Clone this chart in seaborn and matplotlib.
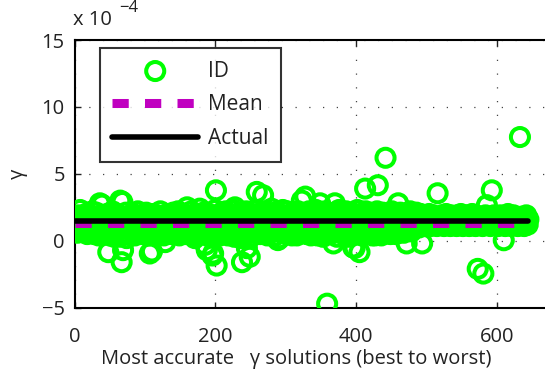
import numpy as np
import pandas as pd
import matplotlib
matplotlib.use("Agg")
import matplotlib.pyplot as plt
import seaborn as sns

# Identified gamma values (units of 1e-4), ordered from best to worst solution
gamma_id = [
    0.8, 1.6, 1.0, 0.6, 1.9, 1.2, 1.7, 2.3, 0.9, 1.5, 0.7, 1.8, 1.1, 1.6, 0.8, 2.0, 1.3, 0.5, 1.7, 1.0,
    1.9, 1.2, 0.6, 1.6, 2.2, 0.9, 1.4, 0.5, 1.8, 1.1, 2.1, 0.8, 1.6, 0.4, 1.3, 2.8, 1.0, 1.9, 2.7, 0.7,
    1.6, 1.1, 0.5, 1.7, 0.9, 2.0, 1.3, -0.85, 1.0, 0.4, 1.8, 0.7, 1.5, 2.2, 1.1, 0.3, 1.7, 0.9, 1.4, 2.0,
    0.8, 1.6, 0.3, 1.8, 3.0, 1.1, -1.6, 2.9, -0.7, 0.6, 1.7, 1.0, 2.1, 0.2, 1.4, 0.5, 1.8, 1.2, 0.8, 1.9,
    1.3, 0.7, 1.7, 2.0, 1.0, 0.4, 1.6, 1.2, 1.0, 2.2, 1.3, 0.8, 1.8, 1.1, 0.5, 1.7, 1.0, 1.9, 0.6, 1.6,
    1.2, 2.1, 0.8, 1.7, 0.4, 1.4, -0.95, 1.0, 1.8, -0.8, 1.1, 2.0, 0.7, 1.6, 1.0, 0.5, 1.9, 1.3, 0.8, 1.7,
    1.1, 2.2, 0.6, 1.6, 1.0, 1.8, 0.4, 1.3, -0.1, 1.7, 0.9, 2.0, 1.2, 0.7, 1.6, 1.9, 1.0, 0.5, 1.4, 2.1,
    0.9, 1.7, 1.1, 0.6, 1.8, 1.3, 2.2, 1.0, 0.4, 1.6, 1.9, 0.7, 1.2, 2.0, 0.9, 1.7, 1.3, 0.5, 1.8, 2.5,
    1.0, 1.6, 0.6, 1.9, 1.2, 2.2, 0.7, 1.7, 0.4, 1.4, 0.2, 1.8, 0.9, 2.0, 1.1, 0.5, 1.6, 2.4, 1.0, 0.6,
    1.7, 1.2, 2.1, 0.5, 1.1, -0.3, 1.8, -0.7, 0.8, 1.6, 2.0, 0.3, 1.0, 1.9, 1.3, -1.1, -0.95, 0.7, 1.7, 2.3,
    3.77, -1.85, 1.1, 0.6, 1.8, 0.9, 0.4, 1.6, 2.1, 1.0, 1.4, 0.5, 1.9, 1.1, 2.2, 0.7, 1.7, 0.4, 1.3, 2.0,
    1.0, 1.8, 0.6, 1.6, 2.3, 0.9, 0.3, 2.5, 1.1, 1.9, 0.5, 1.7, 1.0, 2.1, 1.3, 0.2, 1.8, -1.6, 0.8, 2.0,
    1.6, 0.4, 1.1, 2.2, -0.55, 0.7, 1.7, 1.9, -1.2, 1.0, 0.3, 1.6, 2.0, 1.1, 0.6, 1.8, 2.3, 0.9, 3.65, 1.3,
    1.9, 0.7, 1.6, 0.5, 2.1, 1.1, 1.7, 3.4, 1.0, 2.2, 0.6, 1.8, 1.3, 0.4, 1.6, 2.0, 0.9, 1.9, 1.1, 2.4,
    0.7, 1.7, 1.0, 2.1, 0.4, 1.3, 1.9, 0.8, 0.05, 1.6, 2.0, 0.2, 1.1, 1.8, 0.6, 2.3, 1.3, 1.0, 1.7, 0.5,
    1.6, 2.2, 0.8, 1.8, 1.1, 0.6, 2.0, 1.3, 0.4, 1.7, 1.0, 2.1, 0.7, 1.6, 1.9, 0.4, 1.1, 2.2, 0.8, 1.8,
    1.3, 0.6, 3.0, 1.7, 1.0, 2.0, 0.7, 3.3, 1.6, 0.5, 1.8, 1.1, 2.2, 0.8, 1.7, 0.4, 1.3, 2.0, 1.0, 1.9,
    0.6, 1.6, 2.3, 1.1, 0.4, 1.8, 0.9, 2.1, 2.8, 1.3, 0.7, 1.7, 0.3, 1.9, 1.0, 2.2, 0.6, 1.6, -4.7, 1.1,
    1.8, 0.8, 2.0, 0.5, 1.3, 1.7, 1.0, -0.2, 2.1, 2.8, 0.7, 1.6, 0.3, 1.9, 1.1, 2.3, 0.8, 1.8, 0.6, 1.3,
    2.0, 1.0, 1.7, 0.4, 1.6, 2.2, 0.7, 1.1, 1.9, 0.3, 1.3, 1.8, 0.8, 2.1, 0.6, -0.5, 1.6, -0.55, 1.0, 1.9,
    1.1, 2.3, 0.7, 1.7, -0.85, 1.3, 2.0, 0.4, 0.9, 1.8, 1.6, 0.6, 3.9, 2.2, 1.0, 1.9, 0.5, 1.3, 2.1, 0.8,
    1.7, 1.1, 0.4, 2.0, 1.6, 0.7, 0.4, 1.8, 1.0, 2.2, 4.15, 1.3, 0.6, 1.9, 1.1, 0.4, 1.7, 2.1, 0.9, 1.6,
    1.0, 6.2, 1.8, 0.6, 2.0, 1.3, 0.8, 1.9, 0.5, 1.6, 2.2, 1.1, 0.7, 1.7, 1.0, 2.0, 0.5, 1.3, 1.8, 2.8,
    0.9, 1.6, 2.1, 0.7, 1.1, 1.9, 1.0, 0.6, 1.7, 1.3, 2.0, -0.2, 0.8, 1.8, 1.1, 0.9, 2.2, 1.6, 0.7, 1.3,
    1.8, 1.3, 1.9, 1.1, 1.6, 2.1, 1.4, 1.2, 1.7, 1.0, 1.5, 2.0, 1.3, -0.2, 1.8, 1.4, 1.1, 1.9, 1.6, 1.3,
    1.7, 1.2, 1.5, 2.0, 1.4, 1.1, 1.8, 1.3, 1.6, 1.9, 1.2, 1.5, 1.4, 1.7, 1.1, 3.55, 1.6, 1.3, 1.8, 1.5,
    1.2, 1.9, 1.4, 1.6, 1.1, 1.7, 1.3, 2.0, 1.5, 1.2, 1.8, 1.4, 1.6, 1.1, 1.9, 1.3, 1.7, 1.5, 1.2, 1.8,
    1.4, 1.6, 1.1, 1.9, 1.3, 1.7, 1.5, 1.2, 2.0, 1.4, 1.6, 1.1, 1.8, 1.3, 1.5, 1.9, 1.2, 1.7, 1.4, 1.6,
    1.1, 1.8, 1.3, 1.5, 2.0, 1.2, 1.7, 1.4, 1.6, 1.1, 1.9, 1.3, -2.1, 1.5, 1.8, 1.2, 1.6, 1.4, 1.7, 1.1,
    -2.45, 1.5, 1.3, 1.9, 1.6, 2.66, 1.2, 1.8, 1.4, 1.5, 1.1, 1.7, 3.77, 1.3, 1.6, 1.9, 1.2, 1.5, 1.8, 1.4,
    1.6, 1.1, 1.7, 1.3, 1.9, 1.5, 1.2, 1.8, 1.4, 0.04, 1.6, 1.1, 1.7, 1.3, 1.5, 2.0, 1.2, 1.8, 1.4, 1.6,
    1.1, 1.7, 1.3, 1.9, 1.5, 1.2, 1.8, 1.4, 1.6, 1.1, 1.7, 1.3, 7.75, 1.5, 1.2, 1.8, 1.4, 1.6, 1.1, 1.7,
    1.3, 1.9, 1.5, 1.2, 1.6,
]
gamma_actual = 1.5  # true gamma, units of 1e-4

x_ticks = [0, 200, 400, 600]
y_ticks = [-5, 0, 5, 10, 15]
y_tick_labels = ["\u22125", "0", "5", "10", "15"]

rank = np.arange(1, len(gamma_id) + 1)
df = pd.DataFrame({"rank": rank, "gamma": gamma_id})
df["mean"] = float(np.mean(gamma_id))
df["actual"] = gamma_actual

sns.set_style("white")
plt.rcParams["font.family"] = ["Open Sans", "DejaVu Sans"]
ink = "#222222"

fig = plt.figure(figsize=(5.45, 3.77), dpi=100)
ax = fig.add_axes([74.5 / 545, 69.3 / 377, 700 * 0.7037 / 545, 267.7 / 377])

green = "#00ff00"
sns.scatterplot(data=df, x="rank", y="gamma", ax=ax, marker="o", s=13 ** 2,
                facecolor="none", edgecolor=green, linewidth=2.9, label="ID", zorder=3)
sns.lineplot(data=df, x="rank", y="mean", ax=ax, color="#c000c0", linewidth=6.5,
             label="Mean", zorder=4)
mean_line = ax.lines[-1]
mean_line.set_dashes([1.8, 1.8])
mean_line.set_dash_capstyle("butt")
sns.lineplot(data=df, x="rank", y="actual", ax=ax, color="black", linewidth=4.0,
             label="Actual", zorder=5)

ax.set_xlim(0, 700)
ax.set_ylim(-5, 15)
ax.set_xticks(x_ticks)
ax.set_yticks(y_ticks)
ax.set_yticklabels(y_tick_labels)
ax.tick_params(direction="in", length=4, width=1, labelsize=14.5, colors=ink,
               top=True, bottom=True, left=True, right=False)
ax.tick_params(axis="x", pad=14)
ax.tick_params(axis="y", pad=7)
for side in ["left", "bottom", "top"]:
    ax.spines[side].set_color("black")
    ax.spines[side].set_linewidth(1.5)
ax.spines["right"].set_visible(False)
ax.grid(True, linestyle=(0, (1, 10)), color="#444444", linewidth=0.9)
ax.set_axisbelow(True)

ax.set_xlabel("Most accurate   \u03b3 solutions (best to worst)", fontsize=14.5,
              color=ink)
ax.xaxis.set_label_coords((296 - 74.5) / 492.6, -(349 - 307.7) / 267.7)
ax.set_ylabel("\u03b3", fontsize=14.5, color=ink)
ax.yaxis.set_label_coords((28 - 74.5) / 492.6, (307.7 - 174) / 267.7)
fig.text(73 / 545, 1 - 20 / 377, "x 10", fontsize=14.5, color=ink, va="center")
fig.text(119 / 545, 1 - 8 / 377, "\u22124", fontsize=12, color=ink, va="center")

leg = ax.legend(loc="upper left", bbox_to_anchor=(25.5 / 492.6, 1 - 8 / 267.7),
                fontsize=15, frameon=True, fancybox=False, edgecolor="black",
                handlelength=4.1, handletextpad=0.5, labelspacing=0.62,
                borderpad=0.6, borderaxespad=0)
leg.get_frame().set_linewidth(1.5)
for t in leg.get_texts():
    t.set_color(ink)

fig.savefig("out.png", dpi=100)
